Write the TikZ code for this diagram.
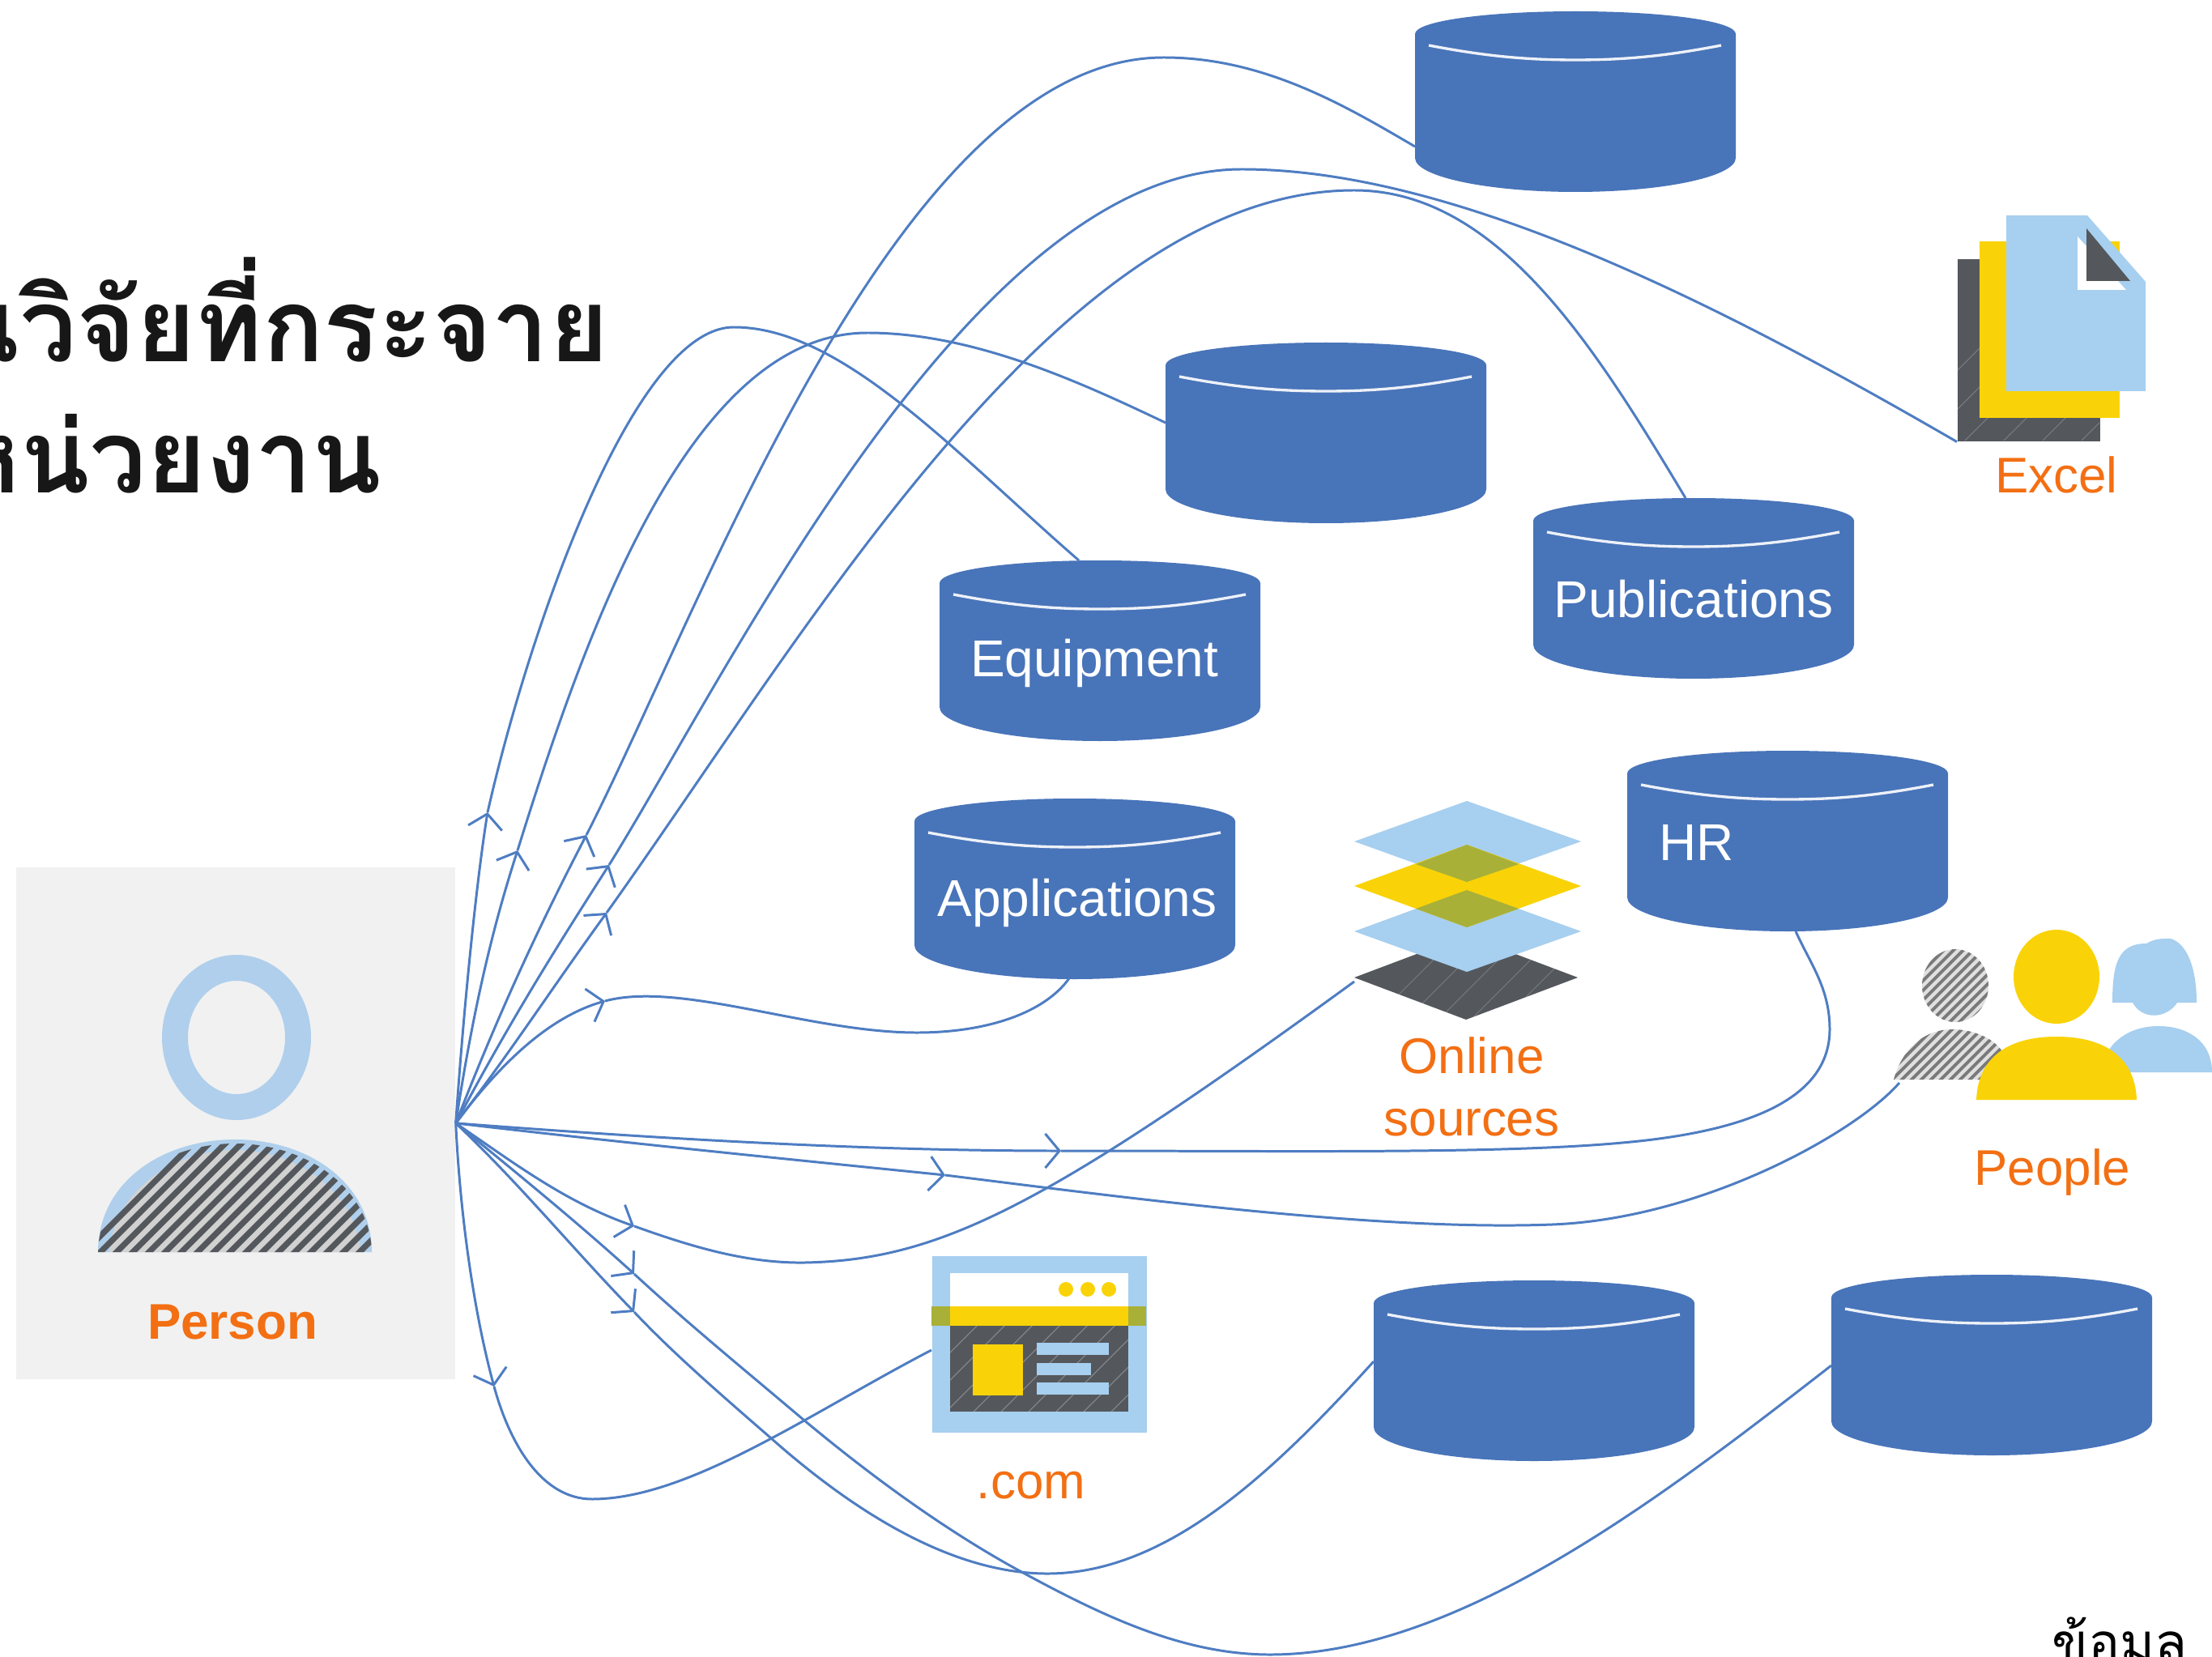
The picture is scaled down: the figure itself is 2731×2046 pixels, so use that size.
\documentclass[tikz,border=0pt]{standalone}
\usepackage{fontspec}
\setmainfont{Liberation Sans}
\newfontfamily\thaifont[Script=Thai]{Loma}
\usetikzlibrary{arrows.meta,calc}
\definecolor{dbblue}{HTML}{4874B9}
\definecolor{linkblue}{HTML}{4E7DC2}
\definecolor{lightblue}{HTML}{A7CFEF}
\definecolor{ringblue}{HTML}{AFCFEC}
\definecolor{sunyellow}{HTML}{F9D308}
\definecolor{olive}{HTML}{A8B038}
\definecolor{slate}{HTML}{54585C}
\definecolor{labelorange}{HTML}{F36F13}
\definecolor{panelgray}{HTML}{F1F1F1}
\tikzset{
  x=0.01cm,y=-0.01cm,
  conn/.style={draw=linkblue,line width=0.85pt},
  arrowed/.style={conn,-{Straight Barb[length=5pt,width=12pt,line width=0.85pt]}},
  orangelabel/.style={text=labelorange,font=\fontsize{17.6pt}{20pt}\selectfont,anchor=base,inner sep=0pt},
  whitelabel/.style={text=white,font=\fontsize{18.2pt}{20pt}\selectfont,anchor=base,inner sep=0pt},
  dbnode/.style={minimum width=3.96cm,minimum height=2.23cm,inner sep=0pt,anchor=north west},
  iconbox/.style={inner sep=0pt,anchor=north west},
  titletext/.style={text=black!91,font=\thaifont\bfseries\fontsize{35.6pt}{40pt}\selectfont,anchor=base east,inner sep=0pt},
}
% cylinder drawn at top-left corner (#2,#3), named node #1 covers it
\newcommand{\dbcyl}[3]{%
  \begin{scope}[shift={(#2,#3)}]
    \fill[dbblue] (0,28) .. controls (0,12) and (89,0) .. (198,0)
      .. controls (307,0) and (396,12) .. (396,28) -- (396,181)
      .. controls (396,204) and (307,223) .. (198,223)
      .. controls (89,223) and (0,204) .. (0,181) -- cycle;
    \draw[white!90!dbblue,line width=0.95pt] (17,42) .. controls (90,56) and (140,60) .. (198,60)
      .. controls (256,60) and (306,56) .. (378,42);
  \end{scope}
  \node[dbnode] (#1) at (#2,#3) {};
}
\begin{document}
\begin{tikzpicture}
\clip (0,0) rectangle (2731,2046);
\fill[white] (0,0) rectangle (2731,2046);

% title and foot text
\node[titletext] (title1) at (752,447) {งานวิจัยที่กระจาย};
\node[titletext] (title2) at (472,608) {หน่วยงาน};
\node[font=\thaifont\fontsize{18.6pt}{20pt}\selectfont,anchor=base west,inner sep=0pt] (foot) at (2533,2051) {ข้อมูล};

% person panel
\node[fill=panelgray,minimum width=5.42cm,minimum height=6.32cm,inner sep=0pt,anchor=north west] (person) at (19,1070) {};
\fill[ringblue,even odd rule] (292,1281) ellipse [x radius=92,y radius=102] (292,1281) ellipse [x radius=60,y radius=70];
\fill[ringblue] (121,1546) .. controls (121,1460) and (200,1407) .. (290,1407) .. controls (380,1407) and (459,1460) .. (459,1546) -- cycle;
\begin{scope}
  \clip (121,1546) .. controls (123,1466) and (203,1412) .. (290,1412) .. controls (377,1412) and (457,1466) .. (459,1546) -- cycle;
  \fill[black!18] (135,1546) .. controls (140,1475) and (210,1420) .. (290,1420) .. controls (370,1420) and (440,1475) .. (445,1546) -- cycle;
  \foreach \k in {0,...,20}
    \draw[slate,line width=2.1pt] ({100+20*\k},1550) -- ({100+20*\k+160},1390);
\end{scope}
\node[orangelabel,font=\bfseries\fontsize{17.6pt}{20pt}\selectfont] (personlabel) at (287,1653) {Person};

% cylinders
\dbcyl{dbtop}{1747}{14}
\dbcyl{dbmid}{1439}{423}
\dbcyl{dbpub}{1893}{615}
\dbcyl{dbequip}{1160}{692}
\dbcyl{dbapps}{1129}{986}
\dbcyl{dbhr}{2009}{927}
\dbcyl{dblowa}{1696}{1581}
\dbcyl{dblowb}{2261}{1574}
\node[whitelabel] (publabel) at (2091,762) {Publications};
\node[whitelabel] (equiplabel) at (1351,835) {Equipment};
\node[whitelabel] (appslabel) at (1330,1131) {Applications};
\node[whitelabel,anchor=base west] (hrlabel) at (2048,1062) {HR};

% excel icon
\node[iconbox,fill=slate,minimum width=1.76cm,minimum height=2.25cm] (excelback) at (2416,319) {};
\begin{scope}
  \clip (2416,319) rectangle (2592,544);
  \foreach \k in {0,...,5}
    \draw[white,opacity=.25,line width=.25pt] ({2330+48*\k},544) -- ({2330+48*\k+170},374);
\end{scope}
\fill[sunyellow] (2444,298) rectangle (2617,516);
\fill[lightblue] (2477,266) -- (2577,266) -- (2649,348) -- (2649,483) -- (2477,483) -- cycle;
\fill[white] (2565,292) -- (2565,358) -- (2625,358) -- cycle;
\fill[slate] (2576,282) -- (2576,347) -- (2630,347) -- cycle;
\node[orangelabel] (excellabel) at (2539,609) {Excel};

% online sources icon
\node[iconbox,minimum width=2.8cm,minimum height=2.69cm] (online) at (1672,989) {};
\fill[slate] (1672,1207) -- (1810,1155) -- (1948,1207) -- (1810,1259) -- cycle;
\begin{scope}
  \clip (1672,1207) -- (1810,1155) -- (1948,1207) -- (1810,1259) -- cycle;
  \foreach \k in {0,...,6}
    \draw[white,opacity=.22,line width=.25pt] ({1690+40*\k},1265) -- ({1690+40*\k+110},1155);
\end{scope}
\fill[lightblue] (1672,1150) -- (1811,1099) -- (1952,1150) -- (1811,1200) -- cycle;
\fill[lightblue] (1672,1039) -- (1811,989) -- (1952,1039) -- (1811,1089) -- cycle;
\fill[sunyellow] (1672,1094) -- (1811,1043) -- (1952,1094) -- (1811,1145) -- cycle;
\fill[olive] (1748,1067) -- (1811,1043) -- (1875,1067) -- (1811,1089) -- cycle;
\fill[olive] (1748,1122) -- (1811,1099) -- (1875,1122) -- (1811,1145) -- cycle;
\node[orangelabel] (onlinelabel) at (1817,1325) {Online};
\node[orangelabel] (sourceslabel) at (1817,1402) {sources};

% people icon
\coordinate (peoplein) at (2345,1337);
\begin{scope}
  \clip (2414,1217) ellipse [x radius=41,y radius=45]
        (2338,1333) .. controls (2350,1290) and (2380,1271) .. (2410,1271) .. controls (2440,1271) and (2465,1285) .. (2473,1300) -- (2473,1333) -- cycle;
  \fill[black!12] (2330,1165) rectangle (2480,1340);
  \foreach \k in {-14,...,26}
    \draw[black!52,line width=1.1pt] ({2300+12*\k},1345) -- ({2300+12*\k+190},1155);
\end{scope}
\fill[lightblue] (2608,1238) .. controls (2608,1190) and (2615,1165) .. (2650,1165) .. controls (2662,1158) and (2672,1159) .. (2680,1159)
  .. controls (2700,1165) and (2712,1195) .. (2712,1238) -- (2688,1238) .. controls (2675,1258) and (2645,1260) .. (2633,1238) -- cycle;
\fill[lightblue] (2593,1324) .. controls (2600,1285) and (2630,1267) .. (2665,1267) .. controls (2700,1267) and (2731,1285) .. (2731,1324) -- cycle;
\fill[sunyellow] (2539,1206) ellipse [x radius=53,y radius=58];
\fill[sunyellow] (2440,1358) .. controls (2442,1305) and (2480,1280) .. (2539,1280) .. controls (2598,1280) and (2636,1305) .. (2638,1358) -- cycle;
\node[orangelabel] (peoplelabel) at (2534,1463) {People};

% .com icon
\node[iconbox,fill=lightblue,minimum width=2.65cm,minimum height=2.18cm] (web) at (1150,1550) {};
\fill[white] (1173,1572) rectangle (1393,1613);
\fill[olive] (1150,1613) rectangle (1415,1637);
\fill[sunyellow] (1173,1613) rectangle (1393,1637);
\fill[slate] (1173,1637) rectangle (1393,1743);
\begin{scope}
  \clip (1173,1637) rectangle (1393,1743);
  \foreach \k in {0,...,9}
    \draw[white,opacity=.3,line width=.3pt] ({1100+34*\k},1743) -- ({1100+34*\k+110},1633);
\end{scope}
\fill[sunyellow] (1201,1660) rectangle (1263,1723);
\fill[lightblue] (1280,1658) rectangle (1369,1673);
\fill[lightblue] (1280,1683) rectangle (1347,1698);
\fill[lightblue] (1280,1707) rectangle (1369,1722);
\foreach \cx in {1316,1343,1369} \fill[sunyellow] (\cx,1592) circle [radius=9];
\node[orangelabel] (weblabel) at (1273,1850) {.com};

% connector ends on the shapes
\coordinate (topin) at (1747,181);
\coordinate (midin) at (1439,522);
\coordinate (equipin) at (1332,692);
\coordinate (pubin) at (2081,615);
\coordinate (appsin) at (1320,1208);
\coordinate (hrin) at (2217,1150);
\coordinate (excelin) at (excelback.south west);
\coordinate (onlinein) at (1672,1212);
\coordinate (webin) at (1150,1667);
\coordinate (lowain) at (1696,1681);
\coordinate (lowbin) at (2261,1686);

% connectors, each in two parts so the arrow head sits on the curve
\draw[arrowed] (person.east) .. controls (572,1250) and (588,1090) .. (602,1003);
\draw[conn] (602,1003) .. controls (650,790) and (780,404) .. (906,404) .. controls (1040,404) and (1180,560) .. (equipin);

\draw[arrowed] (person.east) .. controls (585,1240) and (610,1140) .. (639,1050);
\draw[conn] (639,1050) .. controls (720,790) and (850,411) .. (1071,411) .. controls (1200,411) and (1330,470) .. (midin);

\draw[arrowed] (person.east) .. controls (620,1240) and (670,1135) .. (724,1031);
\draw[conn] (724,1031) .. controls (870,745) and (1110,71) .. (1437,71) .. controls (1560,71) and (1660,130) .. (topin);

\draw[arrowed] (person.east) .. controls (630,1260) and (690,1165) .. (752,1068);
\draw[conn] (752,1068) .. controls (900,830) and (1200,209) .. (1533,209) .. controls (1800,209) and (2130,380) .. (excelin);

\draw[arrowed] (person.east) .. controls (630,1300) and (680,1222) .. (749,1127);
\draw[conn] (749,1127) .. controls (1000,775) and (1310,235) .. (1672,235) .. controls (1850,235) and (1970,430) .. (pubin);

\draw[arrowed] (person.east) .. controls (620,1310) and (680,1255) .. (747,1236);
\draw[conn] (747,1236) .. controls (840,1211) and (1000,1275) .. (1132,1275) .. controls (1220,1275) and (1290,1250) .. (appsin);

\draw[arrowed] (person.east) .. controls (800,1405) and (1060,1421) .. (1310,1421);
\draw[conn] (1310,1421) .. controls (1600,1421) and (1850,1425) .. (2003,1411) .. controls (2150,1398) and (2259,1360) .. (2259,1271) .. controls (2259,1220) and (2235,1190) .. (hrin);

\draw[arrowed] (person.east) .. controls (760,1410) and (960,1430) .. (1167,1451);
\draw[conn] (1167,1451) .. controls (1400,1480) and (1700,1520) .. (1916,1512) .. controls (2100,1505) and (2290,1400) .. (peoplein);

\draw[arrowed] (person.east) .. controls (640,1440) and (700,1485) .. (783,1514);
\draw[conn] (783,1514) .. controls (850,1538) and (920,1560) .. (993,1559) .. controls (1160,1556) and (1290,1490) .. (onlinein);

% upper of the two goes on to the far lower cylinder
\draw[arrowed] (person.east) .. controls (640,1450) and (710,1507) .. (783,1573);
\draw[conn] (783,1573) .. controls (850,1635) and (920,1692) .. (992,1753) .. controls (1070,1818) and (1160,1885) .. (1254,1937)
  .. controls (1360,1995) and (1460,2043) .. (1568,2043) .. controls (1800,2043) and (2050,1850) .. (lowbin);

\draw[arrowed] (person.east) .. controls (640,1460) and (710,1545) .. (783,1620);
\draw[conn] (783,1620) .. controls (830,1670) and (890,1722) .. (951,1775) .. controls (1030,1845) and (1160,1943) .. (1293,1943)
  .. controls (1440,1943) and (1570,1820) .. (lowain);

\draw[arrowed] (person.east) .. controls (568,1500) and (585,1620) .. (610,1712);
\draw[conn] (610,1712) .. controls (630,1785) and (670,1851) .. (731,1851) .. controls (850,1851) and (1000,1745) .. (webin);
\end{tikzpicture}
\end{document}
